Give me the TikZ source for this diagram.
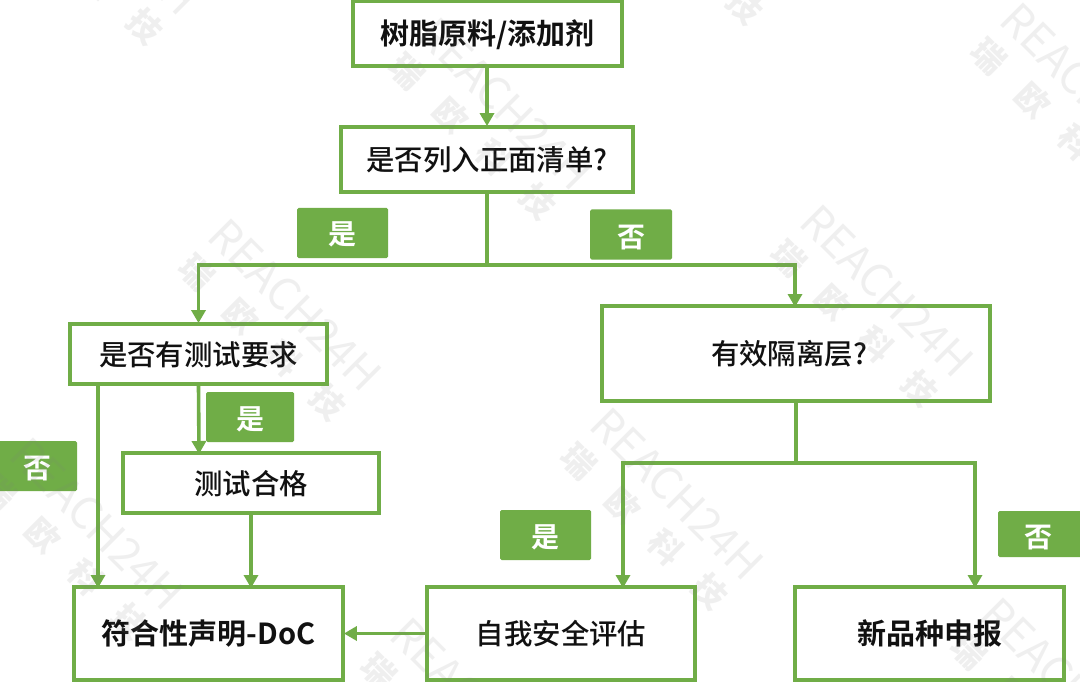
\documentclass[tikz,border=0pt]{standalone}
\usepackage{fontspec}
\setmainfont[BoldFont={Noto Sans CJK SC Bold}]{Noto Sans CJK SC Medium}
\newfontfamily\wmfont{Noto Sans CJK SC}
\usetikzlibrary{arrows.meta}
\definecolor{grn}{HTML}{70AD47}
\definecolor{wm}{HTML}{808080}
\definecolor{txt}{HTML}{111111}
\newcommand{\lowered}[2]{\raisebox{-#1pt}[\height][\depth]{#2}}
\newcommand{\wmark}[2]{%
  \begin{scope}[shift={(#1,#2)},rotate=-45,transform shape]
    \node[wmlat] at (0,0) {REACH24H};
    \node[wmcjk] at (-92,46) {瑞};
    \node[wmcjk] at (-30,46) {欧};
    \node[wmcjk] at (30,46) {科};
    \node[wmcjk] at (92,46) {技};
  \end{scope}}
\tikzset{
  x=1pt,y=-1pt,
  wmlat/.style={text=wm,text opacity=0.12,font=\wmfont\fontsize{44}{44}\selectfont,inner sep=0},
  wmcjk/.style={text=wm,text opacity=0.12,font=\wmfont\bfseries\fontsize{33}{33}\selectfont,inner sep=0},
  flowbox/.style={draw=grn,line width=3.8pt,inner sep=0,text=txt,font=\fontsize{28.4}{28.4}\selectfont},
  tag/.style={fill=grn,rounded corners=1.5pt,inner sep=0,text=white,font=\bfseries\fontsize{28}{28}\selectfont},
  link/.style={draw=grn,line width=3.6pt},
  arrow/.style={link,-{Triangle[length=13pt,width=14pt]},shorten >=-1pt},
}
\begin{document}
\begin{tikzpicture}
\useasboundingbox (0,0) rectangle (1080,682);
\fill[white] (0,0) rectangle (1080,682);

\node[flowbox,minimum width=269pt,minimum height=65pt] (top) at (487.5,33.5) {\bfseries\fontsize{29}{29}\selectfont\lowered{1}{树脂原料/添加剂}};
\node[flowbox,minimum width=292pt,minimum height=65pt] (q1) at (487,159.5) {是否列入正面清单?};
\node[flowbox,minimum width=257pt,minimum height=60pt] (A) at (198.5,354) {\lowered{1}{是否有测试要求}};
\node[flowbox,minimum width=388pt,minimum height=95pt] (B) at (796,353.5) {\hspace*{-14pt}有效隔离层?};
\node[flowbox,minimum width=256pt,minimum height=60pt] (C) at (251,483) {\lowered{1}{测试合格}};
\node[flowbox,minimum width=269pt,minimum height=93pt] (D) at (208.5,633.5) {\bfseries\fontsize{29}{29}\selectfont 符合性声明-DoC};
\node[flowbox,minimum width=268pt,minimum height=93pt] (E) at (561,633.5) {自我安全评估};
\node[flowbox,minimum width=269pt,minimum height=93pt] (F) at (929.5,633.5) {\bfseries\fontsize{29}{29}\selectfont 新品种申报};

\node[tag,minimum width=91pt,minimum height=50pt] (t1) at (342.5,233) {\lowered{1}{是}};
\node[tag,minimum width=82pt,minimum height=50pt] (t2) at (631,234.5) {\lowered{3}{否}};
\node[tag,minimum width=88pt,minimum height=50pt] (t3) at (250,417) {\lowered{2}{是}};
\node[tag,minimum width=90pt,minimum height=50pt] (t4) at (32,466) {\hspace*{12pt}\lowered{3}{否}};
\node[tag,minimum width=91pt,minimum height=50pt] (t5) at (545.5,535) {\lowered{2}{是}};
\node[tag,minimum width=90pt,minimum height=46pt] (t6) at (1043,534) {\hspace*{-10pt}\lowered{4}{否}};

\coordinate (j1) at (487,265);
\coordinate (j1l) at (198.5,265);
\coordinate (j1r) at (795,265);
\coordinate (j2) at (796,463);
\coordinate (j2l) at (623,463);
\coordinate (j2r) at (975,463);
\coordinate (aout) at (98,384);
\coordinate (din) at (98,587);
\coordinate (cin) at (199,453);
\coordinate (cout) at (251,513);
\coordinate (dinr) at (251,587);
\coordinate (ein) at (623,587);
\coordinate (fin) at (975,587);
\coordinate (bin) at (795,306);

\draw[arrow] (top.south -| j1) -- (q1.north -| j1);
\draw[link] (q1.south -| j1) -- (j1);
\draw[link,line cap=rect] (j1l) -- (j1r);
\draw[arrow] (j1l) -- (A.north);
\draw[arrow] (j1r) -- (bin);
\draw[arrow] (A.south) -- (cin);
\draw[arrow] (aout) -- (din);
\draw[arrow] (cout) -- (dinr);
\draw[arrow] (E.west) -- (D.east);
\draw[link] (B.south) -- (j2);
\draw[link,line cap=rect] (j2l) -- (j2r);
\draw[arrow] (j2l) -- (ein);
\draw[arrow] (j2r) -- (fin);

\begin{scope}
\clip (0,0) rectangle (1080,682);
\wmark{677}{494}
\wmark{295}{305}
\wmark{887}{291}
\wmark{505}{104}
\wmark{1087}{89}
\wmark{112}{-71}
\wmark{97}{524}
\wmark{477}{704}
\wmark{1067}{684}
\wmark{712}{-91}
\end{scope}
\end{tikzpicture}
\end{document}
